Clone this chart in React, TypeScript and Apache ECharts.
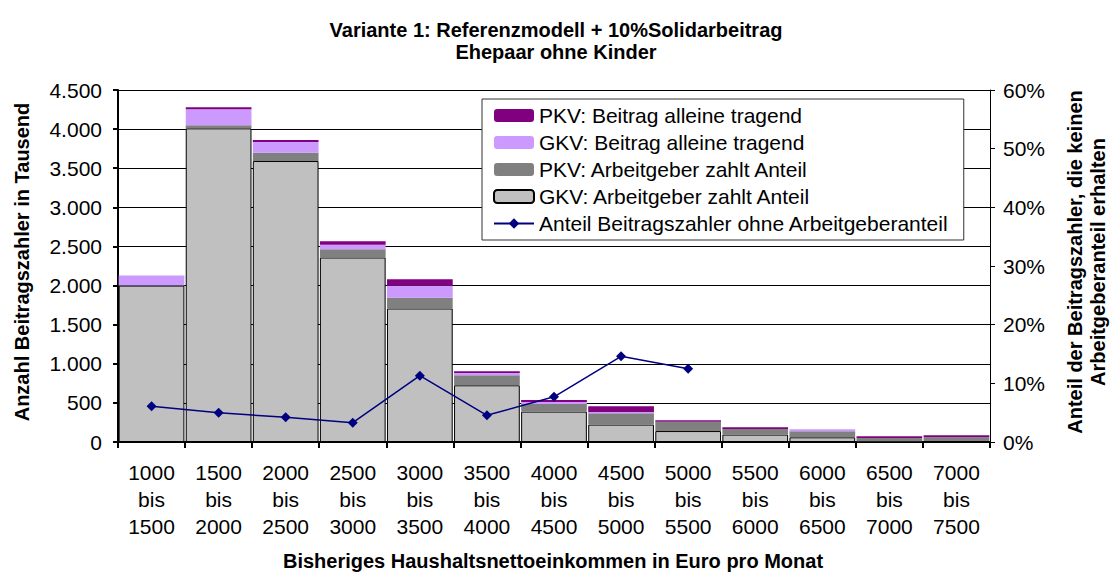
import React, { useEffect, useRef } from "react";
import * as echarts from "echarts";

const categories = [
  "1000\nbis\n1500", "1500\nbis\n2000", "2000\nbis\n2500", "2500\nbis\n3000",
  "3000\nbis\n3500", "3500\nbis\n4000", "4000\nbis\n4500", "4500\nbis\n5000",
  "5000\nbis\n5500", "5500\nbis\n6000", "6000\nbis\n6500", "6500\nbis\n7000",
  "7000\nbis\n7500",
];
const gkvAG = [2000, 4010, 3592, 2359, 1707, 725, 389, 223, 140, 95, 60, 10, 12];
const pkvAG = [0, 40, 106, 106, 136, 128, 97, 144, 118, 71, 77, 41, 48];
const gkvAlone = [130, 205, 136, 56, 153, 30, 26, 17, 0, 0, 25, 0, 0];
const pkvAlone = [0, 25, 26, 47, 86, 22, 25, 73, 20, 22, 0, 22, 26];
const shareNoEmployer: (number | null)[] = [6.1, 5.0, 4.2, 3.3, 11.3, 4.55, 7.7, 14.6, 12.5, null, null, null, null];

const FONT = "Liberation Sans, Arial, sans-serif";
const FS = 21;
const BFS = 20;

function fmtDe(v: number): string {
  const s = String(Math.round(v));
  return s.replace(/\B(?=(\d{3})+(?!\d))/g, ".");
}

export default function App() {
  const ref = useRef<HTMLDivElement>(null);
  useEffect(() => {
    if (!ref.current) return;
    const chart = echarts.init(ref.current, null, { renderer: "svg" });
    const option: any = {
      animation: false,
      backgroundColor: "#ffffff",
      textStyle: { fontFamily: FONT },
      grid: { left: 118, right: 123, top: 90, bottom: 131, containLabel: false },
      legend: {
        orient: "vertical",
        left: 482,
        top: 99,
        backgroundColor: "#ffffff",
        borderColor: "#333333",
        borderWidth: 1,
        padding: [6, 15, 6, 11],
        itemWidth: 40,
        itemHeight: 13,
        itemGap: 6,
        textStyle: { fontFamily: FONT, fontSize: FS, color: "#000", lineHeight: 21 },
        data: [
          "PKV: Beitrag alleine tragend",
          "GKV: Beitrag alleine tragend",
          "PKV: Arbeitgeber zahlt Anteil",
          "GKV: Arbeitgeber zahlt Anteil",
          "Anteil Beitragszahler ohne Arbeitgeberanteil",
        ],
      },
      xAxis: {
        type: "category",
        data: categories,
        boundaryGap: true,
        axisLine: { show: true, lineStyle: { color: "#000", width: 2 } },
        axisTick: { show: true, alignWithLabel: false, length: 6, lineStyle: { color: "#000", width: 2 } },
        axisLabel: { fontFamily: FONT, fontSize: FS, color: "#000", lineHeight: 27, margin: 17, interval: 0 },
      },
      yAxis: [
        {
          type: "value",
          min: 0,
          max: 4500,
          interval: 500,
          axisLine: { show: true, lineStyle: { color: "#000", width: 2 } },
          axisTick: { show: true, length: 5, lineStyle: { color: "#000", width: 2 } },
          axisLabel: { fontFamily: FONT, fontSize: FS, color: "#000", margin: 16, formatter: (v: number) => fmtDe(v) },
          splitLine: { show: true, lineStyle: { color: "#000", width: 1 } },
        },
        {
          type: "value",
          min: 0,
          max: 60,
          interval: 10,
          position: "right",
          axisLine: { show: true, lineStyle: { color: "#000", width: 1 } },
          axisTick: { show: true, length: 5, lineStyle: { color: "#000", width: 1 } },
          axisLabel: { fontFamily: FONT, fontSize: FS, color: "#000", margin: 13, formatter: "{value}%" },
          splitLine: { show: false },
        },
      ],
      graphic: [
        {
          type: "text",
          x: 556,
          y: 19,
          style: {
            text: "Variante 1: Referenzmodell + 10%Solidarbeitrag\nEhepaar ohne Kinder",
            font: `bold ${BFS}px ${FONT}`,
            fill: "#000",
            align: "center",
            verticalAlign: "top",
            lineHeight: 22,
          },
        },
        {
          type: "text",
          x: 553,
          y: 561,
          style: {
            text: "Bisheriges Haushaltsnettoeinkommen in Euro pro Monat",
            font: `bold ${BFS}px ${FONT}`,
            fill: "#000",
            align: "center",
            verticalAlign: "middle",
          },
        },
        {
          type: "text",
          x: 22,
          y: 262,
          rotation: Math.PI / 2,
          style: {
            text: "Anzahl Beitragszahler in Tausend",
            font: `bold ${BFS}px ${FONT}`,
            fill: "#000",
            align: "center",
            verticalAlign: "middle",
          },
        },
        {
          type: "text",
          x: 1086,
          y: 262,
          rotation: Math.PI / 2,
          style: {
            text: "Anteil der Beitragszahler, die keinen\nArbeitgeberanteil erhalten",
            font: `bold ${BFS}px ${FONT}`,
            fill: "#000",
            align: "center",
            verticalAlign: "middle",
            lineHeight: 23,
          },
        },
      ],
      series: [
        {
          name: "GKV: Arbeitgeber zahlt Anteil",
          type: "bar",
          stack: "total",
          data: gkvAG,
          barCategoryGap: "2%",
          itemStyle: { color: "#C0C0C0", borderColor: "#000", borderWidth: 1 },
        },
        {
          name: "PKV: Arbeitgeber zahlt Anteil",
          type: "bar",
          stack: "total",
          data: pkvAG,
          itemStyle: { color: "#808080" },
        },
        {
          name: "GKV: Beitrag alleine tragend",
          type: "bar",
          stack: "total",
          data: gkvAlone,
          itemStyle: { color: "#CC99FF" },
        },
        {
          name: "PKV: Beitrag alleine tragend",
          type: "bar",
          stack: "total",
          data: pkvAlone,
          itemStyle: { color: "#800080" },
        },
        {
          name: "Anteil Beitragszahler ohne Arbeitgeberanteil",
          type: "line",
          yAxisIndex: 1,
          data: shareNoEmployer,
          symbol: "diamond",
          symbolSize: 10,
          connectNulls: false,
          lineStyle: { color: "#000080", width: 1.5 },
          itemStyle: { color: "#000080" },
          z: 5,
        },
      ],
    };
    chart.setOption(option);
    return () => chart.dispose();
  }, []);
  return (
    <div
      ref={ref}
      style={{ position: "fixed", left: 0, top: 0, width: 1113, height: 573 }}
    />
  );
}
